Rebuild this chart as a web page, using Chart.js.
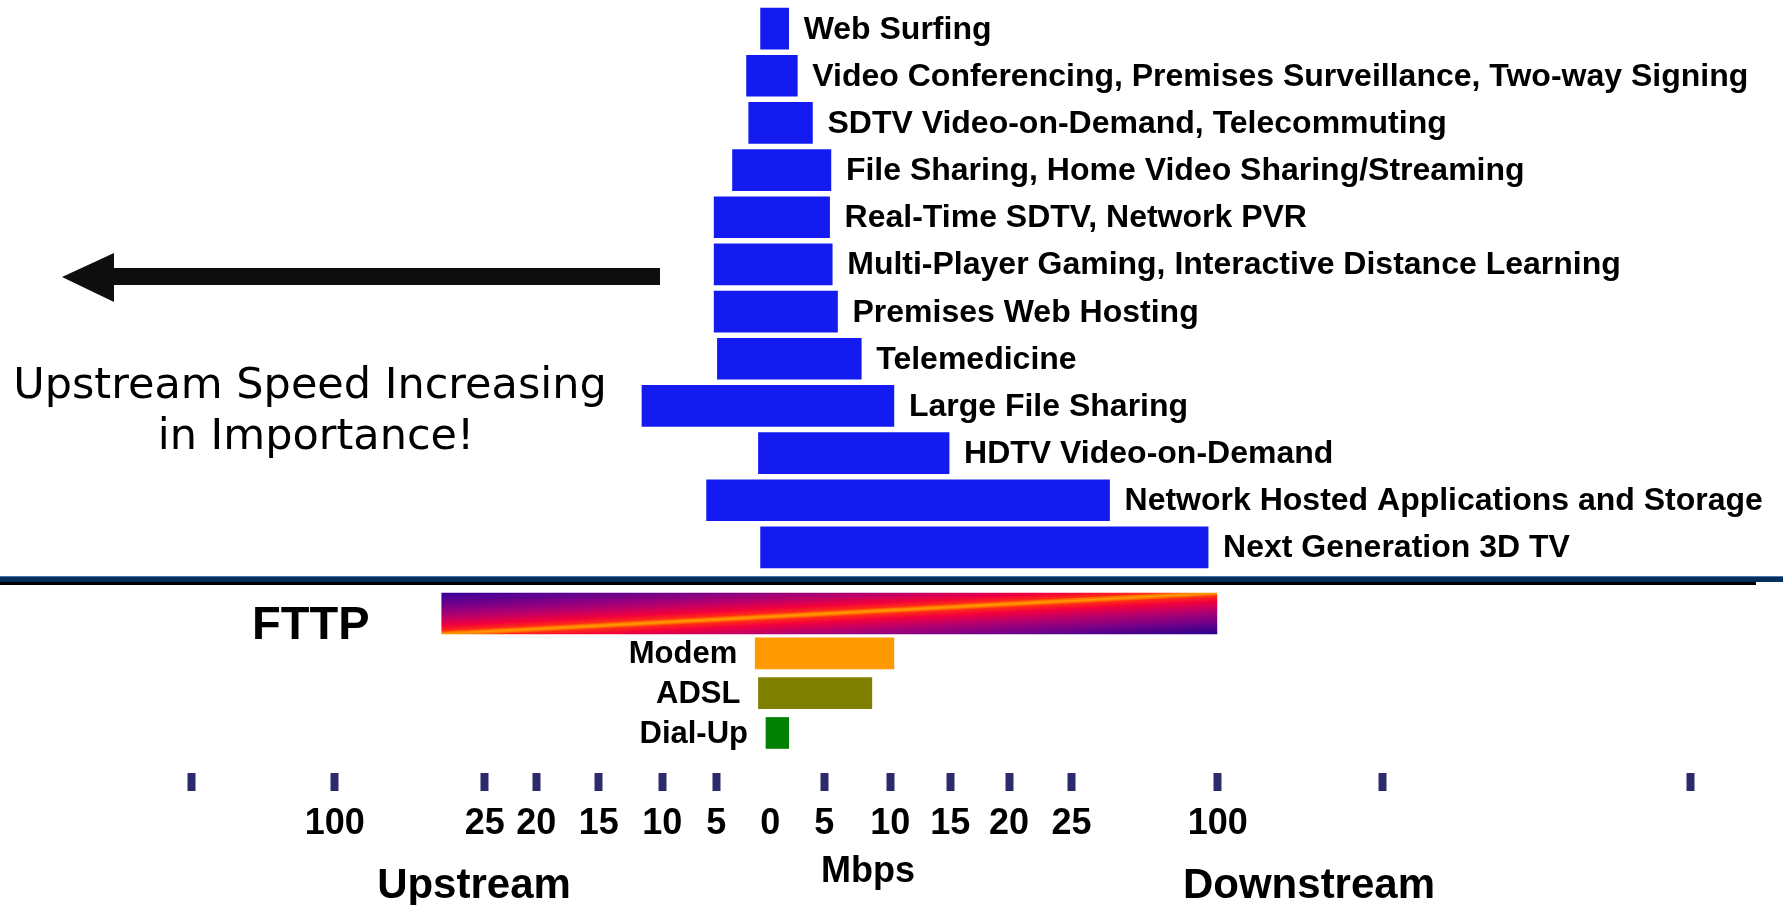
<!DOCTYPE html>
<html>
<head>
<meta charset="utf-8">
<title>Bandwidth needs by application</title>
<script src="https://cdn.jsdelivr.net/npm/chart.js@4.4.1/dist/chart.umd.min.js"></script>
<style>
  html, body { margin: 0; padding: 0; background: #fff; }
  #wrap { position: relative; width: 1783px; height: 905px; overflow: hidden; }
  #top { position: absolute; left: 0; top: 0; }
  #bottom { position: absolute; left: 0; top: 575px; }
</style>
</head>
<body>
<div id="wrap">
  <canvas id="top" width="1783" height="575"></canvas>
  <canvas id="bottom" width="1783" height="330"></canvas>
</div>
<script>
// applications and the bandwidth they need, Mbps
const tasks = [
  'Web Surfing',
  'Video Conferencing, Premises Surveillance, Two-way Signing',
  'SDTV Video-on-Demand, Telecommuting',
  'File Sharing, Home Video Sharing/Streaming',
  'Real-Time SDTV, Network PVR',
  'Multi-Player Gaming, Interactive Distance Learning',
  'Premises Web Hosting',
  'Telemedicine',
  'Large File Sharing',
  'HDTV Video-on-Demand',
  'Network Hosted Applications and Storage',
  'Next Generation 3D TV'
];
const taskUp = [0.9, 2.2, 2.0, 3.5, 5.2, 5.2, 5.2, 4.9, 11.6, 1.1, 5.9, 0.9];
const taskDown = [1.7, 2.5, 3.9, 5.5, 5.4, 5.6, 6.0, 7.8, 10.3, 14.9, 44.5, 95];

// access technologies, Mbps
const access = ['FTTP', 'Modem', 'ADSL', 'Dial-Up'];
const accessUp = [46.5, 1.4, 1.1, 0.4];
const accessDown = [99.5, 10.3, 8.6, 1.7];

// axis ticks (upstream negative), the axis is not linear
const tickMbps = [null, -100, -25, -20, -15, -10, -5, 0, 5, 10, 15, 20, 25, 100, null, null];
const tickLabels = ['', '100', '25', '20', '15', '10', '5', '0', '5', '10', '15', '20', '25', '100', '', ''];
const tickSlots = [-48.2, -36.3, -23.8, -19.5, -14.3, -9.0, -4.5, 0, 4.5, 10.0, 15.0, 19.9, 25.1, 37.3, 51.0, 76.7];

const X_MIN = -64.2, X_MAX = 84.4;
const BLUE = '#131bf1';
const NAVY = '#2c2a6a';
const FONT = '"Liberation Sans", Arial, sans-serif';
const accessColors = ['#ff9900', '#808000', '#008000'];

// mbps -> position on the drawn axis, piecewise between labelled ticks
function toAxis(mbps) {
  const stops = [];
  tickMbps.forEach((m, i) => { if (m !== null) stops.push([m, tickSlots[i]]); });
  for (let i = 1; i < stops.length; i++) {
    const [m0, s0] = stops[i - 1], [m1, s1] = stops[i];
    if (mbps <= m1 || i === stops.length - 1) {
      return s0 + (mbps - m0) * (s1 - s0) / (m1 - m0);
    }
  }
}

const taskLabels = {
  id: 'taskLabels',
  afterDatasetsDraw(chart) {
    const ctx = chart.ctx;
    ctx.save();
    ctx.font = 'bold 32px ' + FONT;
    ctx.fillStyle = '#000';
    ctx.textAlign = 'left';
    ctx.textBaseline = 'alphabetic';
    chart.getDatasetMeta(0).data.forEach((bar, i) => {
      const right = Math.max(bar.x, bar.base);
      ctx.fillText(chart.data.labels[i], right + 15, bar.y + 10);
    });
    ctx.restore();
  }
};

const arrowNote = {
  id: 'arrowNote',
  afterDraw(chart) {
    const ctx = chart.ctx;
    ctx.save();
    ctx.fillStyle = '#0e0e0e';
    ctx.fillRect(114, 268, 546, 17);
    ctx.beginPath();
    ctx.moveTo(62, 277);
    ctx.lineTo(114, 253);
    ctx.lineTo(114, 302);
    ctx.closePath();
    ctx.fill();
    ctx.fillStyle = '#000';
    ctx.font = '43px "DejaVu Sans", sans-serif';
    ctx.textAlign = 'center';
    ctx.fillText('Upstream Speed Increasing', 310, 398);
    ctx.fillText('in Importance!', 316, 449);
    ctx.restore();
  }
};

new Chart(document.getElementById('top'), {
  type: 'bar',
  data: {
    labels: tasks,
    datasets: [{
      data: tasks.map((t, i) => [toAxis(-taskUp[i]), toAxis(taskDown[i])]),
      backgroundColor: BLUE,
      borderWidth: 0,
      barThickness: 41
    }]
  },
  options: {
    indexAxis: 'y',
    responsive: false,
    animation: false,
    layout: { padding: { top: 5, bottom: 4, left: 0, right: 0 } },
    plugins: { legend: { display: false }, tooltip: { enabled: false } },
    scales: {
      x: { type: 'linear', min: X_MIN, max: X_MAX, display: false },
      y: { display: false, offset: true }
    }
  },
  plugins: [taskLabels, arrowNote]
});

// diagonal glow on the FTTP bar
const fttpFill = function (context) {
  const chart = context.chart;
  if (context.type !== 'data' || !chart.chartArea) return '#d0005a';
  const xs = chart.scales.x, ys = chart.scales.y;
  const x0 = xs.getPixelForValue(context.raw.x[0]);
  const x1 = xs.getPixelForValue(context.raw.x[1]);
  const yc = ys.getPixelForValue(context.raw.y);
  if (!isFinite(x0) || !isFinite(x1) || !isFinite(yc)) return '#d0005a';
  const w = x1 - x0, h = 41;
  const k = w * h / (w * w + h * h);
  const cx = (x0 + x1) / 2;
  const g = chart.ctx.createLinearGradient(cx - k * h, yc - k * w, cx + k * h, yc + k * w);
  g.addColorStop(0, '#38009a');
  g.addColorStop(0.16, '#780088');
  g.addColorStop(0.3, '#bc006a');
  g.addColorStop(0.4, '#f2003c');
  g.addColorStop(0.46, '#ff2a18');
  g.addColorStop(0.48, '#ff7200');
  g.addColorStop(0.5, '#ff9c00');
  g.addColorStop(0.52, '#ff7200');
  g.addColorStop(0.54, '#ff2a18');
  g.addColorStop(0.6, '#f2003c');
  g.addColorStop(0.7, '#bc006a');
  g.addColorStop(0.84, '#780088');
  g.addColorStop(1, '#28008e');
  return g;
};

const bottomNotes = {
  id: 'bottomNotes',
  afterDraw(chart) {
    const ctx = chart.ctx;
    ctx.save();
    // separator
    ctx.fillStyle = '#4a78a6';
    ctx.fillRect(0, 1, 1783, 1);
    ctx.fillStyle = '#062f5c';
    ctx.fillRect(0, 2, 1783, 5);
    ctx.fillStyle = '#000';
    ctx.fillRect(0, 7, 1756, 3);

    ctx.fillStyle = '#000';
    ctx.textBaseline = 'alphabetic';
    const fttp = chart.getDatasetMeta(0).data[0];
    ctx.font = 'bold 47px ' + FONT;
    ctx.textAlign = 'left';
    ctx.fillText(access[0], 252, fttp.y + 26);

    ctx.font = 'bold 31px ' + FONT;
    ctx.textAlign = 'right';
    chart.getDatasetMeta(1).data.forEach((bar, i) => {
      const left = Math.min(bar.x, bar.base);
      ctx.fillText(access[i + 1], left - 18, bar.y + 10);
    });

    ctx.textAlign = 'center';
    ctx.font = 'bold 36px ' + FONT;
    ctx.fillText('Mbps', 868, 307);
    ctx.font = 'bold 42px ' + FONT;
    ctx.fillText('Upstream', 474, 323);
    ctx.fillText('Downstream', 1309, 323);
    ctx.restore();
  }
};

new Chart(document.getElementById('bottom'), {
  type: 'bar',
  data: {
    datasets: [{
      data: [{ y: 0, x: [toAxis(-accessUp[0]), toAxis(accessDown[0])] }],
      backgroundColor: fttpFill,
      borderWidth: 0,
      barThickness: 41,
      grouped: false
    }, {
      data: [1, 2, 3].map(i => ({ y: i, x: [toAxis(-accessUp[i]), toAxis(accessDown[i])] })),
      backgroundColor: accessColors,
      borderWidth: 0,
      barThickness: 31,
      grouped: false
    }]
  },
  options: {
    indexAxis: 'y',
    responsive: false,
    animation: false,
    layout: { padding: { top: 8, bottom: 0, left: 0, right: 0 } },
    plugins: { legend: { display: false }, tooltip: { enabled: false } },
    scales: {
      x: {
        type: 'linear',
        position: 'bottom',
        min: X_MIN,
        max: X_MAX,
        afterBuildTicks: scale => { scale.ticks = tickSlots.map(v => ({ value: v })); },
        afterFit: scale => { scale.height = 132; },
        border: { display: false },
        grid: {
          drawOnChartArea: false,
          drawTicks: true,
          tickLength: 18,
          tickWidth: 8,
          tickColor: c => (c.tick && c.tick.value === 0) ? 'rgba(0,0,0,0)' : NAVY
        },
        ticks: {
          autoSkip: false,
          maxRotation: 0,
          minRotation: 0,
          padding: 11,
          color: '#000',
          font: { family: FONT, size: 36, weight: 'bold' },
          callback: (value, index) => tickLabels[index]
        }
      },
      y: { type: 'linear', reverse: true, min: -0.5, max: 3.74, display: false }
    }
  },
  plugins: [bottomNotes]
});
</script>
</body>
</html>
